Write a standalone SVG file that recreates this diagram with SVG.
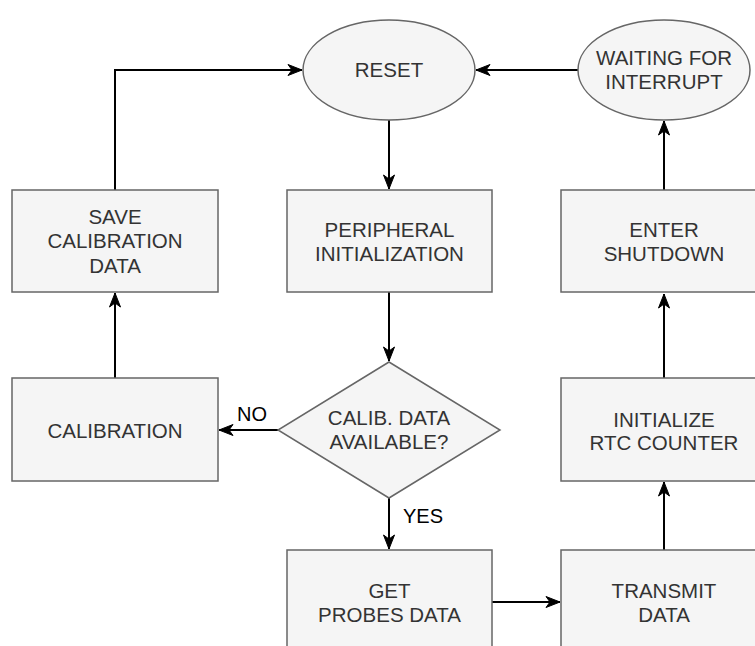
<svg xmlns="http://www.w3.org/2000/svg" width="755" height="646" viewBox="0 0 755 646">
  <defs>
    <marker id="arr" markerUnits="userSpaceOnUse" markerWidth="16" markerHeight="12" viewBox="-15 -6 16 12" refX="0" refY="0" orient="auto" overflow="visible">
      <path d="M0,0 L-14,-5.5 L-10,0 L-14,5.5 Z" fill="#000" stroke="#000" stroke-width="1" stroke-linejoin="miter"/>
    </marker>
  </defs>
  <style>
    .shape { fill: #f5f5f5; stroke: #666666; stroke-width: 1.5; }
    .lbl { font-family: "Liberation Sans", Arial, sans-serif; font-size: 20.5px; fill: #333333; text-anchor: middle; }
    .edge { fill: none; stroke: #000; stroke-width: 2; marker-end: url(#arr); }
    .elbl { font-family: "Liberation Sans", Arial, sans-serif; font-size: 20px; fill: #000; }
  </style>
  <rect width="755" height="646" fill="#ffffff"/>

  <g id="connectors">
    <path class="edge" d="M389,120 L389,189"/>
    <path class="edge" d="M389,292 L389,361"/>
    <path class="edge" d="M278,430 L219,430"/>
    <path class="edge" d="M389,498 L389,549"/>
    <path class="edge" d="M115,378 L115,293"/>
    <path class="edge" d="M115,190 L115,70 L302,70"/>
    <path class="edge" d="M492,602 L560,602"/>
    <path class="edge" d="M664,550 L664,482"/>
    <path class="edge" d="M664,378 L664,294"/>
    <path class="edge" d="M664,190 L664,121"/>
    <path class="edge" d="M578,70 L476,70"/>
    <text class="elbl" x="237" y="421">NO</text>
    <text class="elbl" x="403" y="523">YES</text>
  </g>

  <g id="reset">
    <ellipse class="shape" cx="389" cy="70" rx="86" ry="50"/>
    <text class="lbl" x="389" y="77">RESET</text>
  </g>
  <g id="waiting">
    <ellipse class="shape" cx="664" cy="70" rx="86" ry="50"/>
    <text class="lbl" x="664" y="65">WAITING FOR</text>
    <text class="lbl" x="664" y="89">INTERRUPT</text>
  </g>
  <g id="save">
    <rect class="shape" x="12" y="190" width="206" height="102"/>
    <text class="lbl" x="115" y="224">SAVE</text>
    <text class="lbl" x="115" y="248">CALIBRATION</text>
    <text class="lbl" x="115" y="273">DATA</text>
  </g>
  <g id="peripheral">
    <rect class="shape" x="287" y="190" width="205" height="102"/>
    <text class="lbl" x="389.5" y="237">PERIPHERAL</text>
    <text class="lbl" x="389.5" y="261">INITIALIZATION</text>
  </g>
  <g id="shutdown">
    <rect class="shape" x="561" y="190" width="206" height="102"/>
    <text class="lbl" x="664" y="237">ENTER</text>
    <text class="lbl" x="664" y="261">SHUTDOWN</text>
  </g>
  <g id="calibration">
    <rect class="shape" x="12" y="378" width="206" height="103"/>
    <text class="lbl" x="115" y="438">CALIBRATION</text>
  </g>
  <g id="decision">
    <path class="shape" d="M389,362 L500,430 L389,498 L278,430 Z"/>
    <text class="lbl" x="389" y="425">CALIB. DATA</text>
    <text class="lbl" x="389" y="449">AVAILABLE?</text>
  </g>
  <g id="rtc">
    <rect class="shape" x="561" y="378" width="206" height="103"/>
    <text class="lbl" x="664" y="427">INITIALIZE</text>
    <text class="lbl" x="664" y="450">RTC COUNTER</text>
  </g>
  <g id="probes">
    <rect class="shape" x="287" y="550" width="205" height="103"/>
    <text class="lbl" x="389.5" y="598">GET</text>
    <text class="lbl" x="389.5" y="622">PROBES DATA</text>
  </g>
  <g id="transmit">
    <rect class="shape" x="561" y="550" width="206" height="103"/>
    <text class="lbl" x="664" y="598">TRANSMIT</text>
    <text class="lbl" x="664" y="622">DATA</text>
  </g>
</svg>
